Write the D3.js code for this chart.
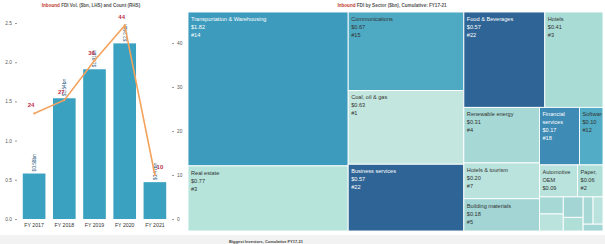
<!DOCTYPE html>
<html>
<head>
<meta charset="utf-8">
<script src="https://cdn.jsdelivr.net/npm/d3@7"></script>
<style>
body { margin: 0; background: #fff; }
svg { display: block; font-family: "Liberation Sans", Arial, sans-serif; }
</style>
</head>
<body>
<div id="chart"></div>
<script>
// left chart: volume (LHS) and count (RHS)
var years = ["FY 2017", "FY 2018", "FY 2019", "FY 2020", "FY 2021"];
var volume = [0.58, 1.54, 1.91, 2.24, 0.47];
var counts = [24, 27, 36, 44, 10];
var volTicks = [0, 0.5, 1.0, 1.5, 2.0, 2.5];
var countTicks = [0, 10, 20, 30, 40];

// treemap: cumulative FDI by sector
var sectors = ["Transportation & Warehousing", "Real estate", "Communications", "Coal, oil & gas",
  "Business services", "Food & Beverages", "Hotels", "Renewable energy", "Hotels & tourism",
  "Building materials", "Financial services", "Software services", "Automotive OEM",
  "Paper, printing & packaging", "Healthcare", "Textiles", "Chemicals", "Electronics",
  "Aerospace", "Consumer products", "Other"];
var sectorValues = [1.82, 0.77, 0.67, 0.63, 0.57, 0.57, 0.41, 0.31, 0.20, 0.18, 0.17, 0.10, 0.09,
  0.06, 0.03, 0.03, 0.03, 0.02, 0.02, 0.02, 0.01];
var sectorCounts = [14, 3, 15, 1, 22, 22, 3, 4, 7, 5, 18, 12, 8, 2, 2, 1, 1, 1, 1, 1, 1];

var sectorColors = ["#3d9bbd", "#b6e3da", "#4eaac3", "#c3e7df", "#2f6596", "#2f6596", "#a9dcd5",
  "#a6d8d5", "#b9e3dc", "#a2d5d4", "#3e8bb5", "#52acc5", "#b9e3dc", "#b0dfd8", "#a6d8d5",
  "#b9e3dc", "#a2d5d4", "#b0dfd8", "#a6d8d5", "#b9e3dc", "#a2d5d4"];

var W = 605, H = 244;

var svg = d3.select("#chart").append("svg")
  .attr("width", W)
  .attr("height", H);

// bottom band
svg.append("rect")
  .attr("x", 0).attr("y", 235).attr("width", W).attr("height", 9)
  .attr("fill", "#f2f2f2");
svg.append("text")
  .attr("x", 266).attr("y", 242.5)
  .attr("text-anchor", "middle")
  .attr("font-size", 4).attr("font-weight", "bold").attr("fill", "#444")
  .text("Biggest Investors, Cumulative FY17-21");

function title(x, rest) {
  var t = svg.append("text")
    .attr("x", x).attr("y", 6.5)
    .attr("text-anchor", "middle")
    .attr("font-size", 4.6).attr("font-weight", "bold");
  t.append("tspan").attr("fill", "#c0392b").text("Inbound ");
  t.append("tspan").attr("fill", "#555").text(rest);
}
title(91, "FDI Vol. ($bn, LHS) and Count (RHS)");
title(392, "FDI by Sector ($bn), Cumulative: FY17-21");

// ---- left chart ----
var x = d3.scaleBand()
  .domain(years)
  .range([19, 170])
  .paddingInner(0.25)
  .paddingOuter(0.125);

var yL = d3.scaleLinear().domain([0, 2.5]).range([219, 23]);
var yR = d3.scaleLinear().domain([0, 40]).range([219, 43]);

var gL = svg.append("g")
  .attr("transform", "translate(17,0)")
  .call(d3.axisLeft(yL).tickValues(volTicks).tickFormat(d3.format(".1f")).tickSize(2));
var gR = svg.append("g")
  .attr("transform", "translate(172,0)")
  .call(d3.axisRight(yR).tickValues(countTicks).tickSize(2));
var gX = svg.append("g")
  .attr("transform", "translate(0,219)")
  .call(d3.axisBottom(x).tickSize(0).tickPadding(4));

[gL, gR, gX].forEach(function(g) {
  g.select(".domain").remove();
  g.selectAll("line").attr("stroke", "#999");
  g.selectAll("text").attr("font-size", 4.8).attr("fill", "#555").attr("font-family", null);
});
gX.selectAll("text").attr("font-size", 5.2).attr("fill", "#333");

svg.append("g").selectAll("rect")
  .data(volume)
  .join("rect")
  .attr("x", function(d, i) { return x(years[i]); })
  .attr("y", function(d) { return yL(d); })
  .attr("width", x.bandwidth())
  .attr("height", function(d) { return yL(0) - yL(d); })
  .attr("fill", "#3ba1c1");

svg.append("g").selectAll("text")
  .data(volume)
  .join("text")
  .attr("transform", function(d, i) {
    return "translate(" + (x(years[i]) + x.bandwidth() / 2 + 1.8) + "," + (yL(d) - 2) + ") rotate(-90)";
  })
  .attr("font-size", 4.8)
  .attr("fill", "#2a5a80")
  .text(function(d) { return "$" + d.toFixed(2) + "bn"; });

svg.append("path")
  .datum(counts)
  .attr("fill", "none")
  .attr("stroke", "#f5a25d")
  .attr("stroke-width", 1.6)
  .attr("d", d3.line()
    .x(function(d, i) { return x(years[i]) + x.bandwidth() / 2; })
    .y(function(d) { return yR(d); }));

svg.append("g").selectAll("circle")
  .data(counts)
  .join("circle")
  .attr("cx", function(d, i) { return x(years[i]) + x.bandwidth() / 2; })
  .attr("cy", function(d) { return yR(d); })
  .attr("r", 1)
  .attr("fill", "#f5a25d");

svg.append("g").selectAll("text")
  .data(counts)
  .join("text")
  .attr("x", function(d, i) { return x(years[i]) + x.bandwidth() / 2 + (i == counts.length - 1 ? 5 : -3); })
  .attr("y", function(d) { return yR(d) - 6; })
  .attr("text-anchor", "middle")
  .attr("font-size", 6)
  .attr("font-weight", "bold")
  .attr("fill", "#c0304a")
  .text(function(d) { return d; });

// ---- treemap ----
var color = d3.scaleOrdinal().domain(sectors).range(sectorColors);

var root = d3.hierarchy({
    children: sectors.map(function(s, i) { return {name: s, value: sectorValues[i], count: sectorCounts[i]}; })
  })
  .sum(function(d) { return d.value || 0; });

d3.treemap()
  .size([415, 219])
  .tile(d3.treemapSquarify)(root);

var gT = svg.append("g").attr("transform", "translate(188,12)");

var cell = gT.selectAll("g")
  .data(root.leaves())
  .join("g")
  .attr("transform", function(d) { return "translate(" + d.x0 + "," + d.y0 + ")"; });

cell.append("rect")
  .attr("width", function(d) { return d.x1 - d.x0; })
  .attr("height", function(d) { return d.y1 - d.y0; })
  .attr("fill", function(d) { return color(d.data.name); })
  .attr("stroke", "#fff")
  .attr("stroke-width", 0.9);

cell.append("clipPath")
  .attr("id", function(d, i) { return "clip" + i; })
  .append("rect")
  .attr("width", function(d) { return d.x1 - d.x0 - 1; })
  .attr("height", function(d) { return d.y1 - d.y0 - 1; });

cell.each(function(d, i) {
  var w = d.x1 - d.x0, h = d.y1 - d.y0;
  // tiny cells stay unlabeled
  if (w < 18 || h < 20 || w * h < 600) return;
  var dark = d3.hsl(color(d.data.name)).l < 0.5;
  var t = d3.select(this).append("text")
    .attr("clip-path", "url(#clip" + i + ")")
    .attr("font-size", 5.6)
    .attr("fill", dark ? "#fff" : "#333");

  // wrap the name into the cell width
  var words = d.data.name.split(" "), lines = [], line = "";
  var probe = t.append("tspan");
  words.forEach(function(wd) {
    var test = line ? line + " " + wd : wd;
    probe.text(test);
    if (probe.node().getComputedTextLength() > w - 5 && line) {
      lines.push(line);
      line = wd;
    } else {
      line = test;
    }
  });
  lines.push(line);
  probe.remove();
  // small cells keep only the first line of the name
  if (w < 30) lines = [lines[0]];
  lines.push("$" + d.data.value.toFixed(2));
  lines.push("#" + d.data.count);

  lines.forEach(function(l, k) {
    if (9 + k * 8 > h - 2) return;
    t.append("tspan")
      .attr("x", 3)
      .attr("y", 9 + k * 8)
      .text(l);
  });
});
</script>
</body>
</html>
